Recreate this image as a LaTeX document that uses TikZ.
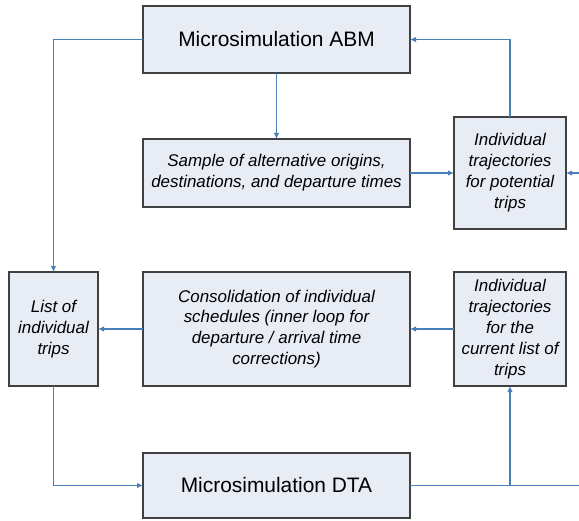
\documentclass[tikz,border=0pt]{standalone}
\usepackage{fontspec}
\setmainfont{Liberation Sans}
\usetikzlibrary{arrows.meta}
\definecolor{boxfill}{HTML}{E8ECF5}
\definecolor{linkblue}{HTML}{4A7EBB}
\definecolor{boxline}{HTML}{404040}

\begin{document}
\begin{tikzpicture}[x=1bp,y=-1bp,>={Latex[length=6bp,width=5.5bp]},
  box/.style={draw=boxline,line width=1.1bp,fill=boxfill,inner sep=2bp,outer sep=0pt,align=center,font=\fontsize{17}{21}\selectfont\itshape},
  bigbox/.style={box,font=\fontsize{21}{25}\selectfont},
  link/.style={draw=linkblue,line width=1.1bp}]
  \fill[white] (0,0) rectangle (579,521);
  \useasboundingbox (0,0) rectangle (579,521);
  \node[bigbox,minimum width=267bp,minimum height=67bp] (abm) at (276.5,39.5) {Microsimulation ABM};
  \node[box,minimum width=267bp,minimum height=68bp] (smp) at (276.5,173) {Sample of alternative origins,\\destinations, and departure times};
  \node[box,minimum width=112bp,minimum height=112bp] (pot) at (510,173) {Individual\\trajectories\\for potential\\trips};
  \node[box,minimum width=89bp,minimum height=114bp] (lst) at (53.5,329) {List of\\individual\\trips};
  \node[box,minimum width=267bp,minimum height=114bp] (con) at (276.5,329) {Consolidation of individual\\schedules (inner loop for\\departure / arrival time\\corrections)};
  \node[box,minimum width=112bp,minimum height=114bp] (cur) at (510,329) {Individual\\trajectories\\for the\\current list of\\trips};
  \node[bigbox,minimum width=267bp,minimum height=65bp] (dta) at (276.5,485.5) {Microsimulation DTA};
  \coordinate (rin) at (579,173);
  \coordinate (rout) at (579,485.5);
  \draw[link,->] (abm.west) -| (lst.north);
  \draw[link,->] (pot.north) |- (abm.east);
  \draw[link,->] (abm) -- (smp);
  \draw[link,->] (smp) -- (pot);
  \draw[link,->] (rin) -- (pot.east);
  \draw[link,->] (cur) -- (con);
  \draw[link,->] (con) -- (lst);
  \draw[link,->] (lst.south) |- (dta.west);
  \draw[link] (dta.east) -- (rout);
  \draw[link,->] (dta.east -| cur.south) -- (cur.south);
\end{tikzpicture}
\end{document}
